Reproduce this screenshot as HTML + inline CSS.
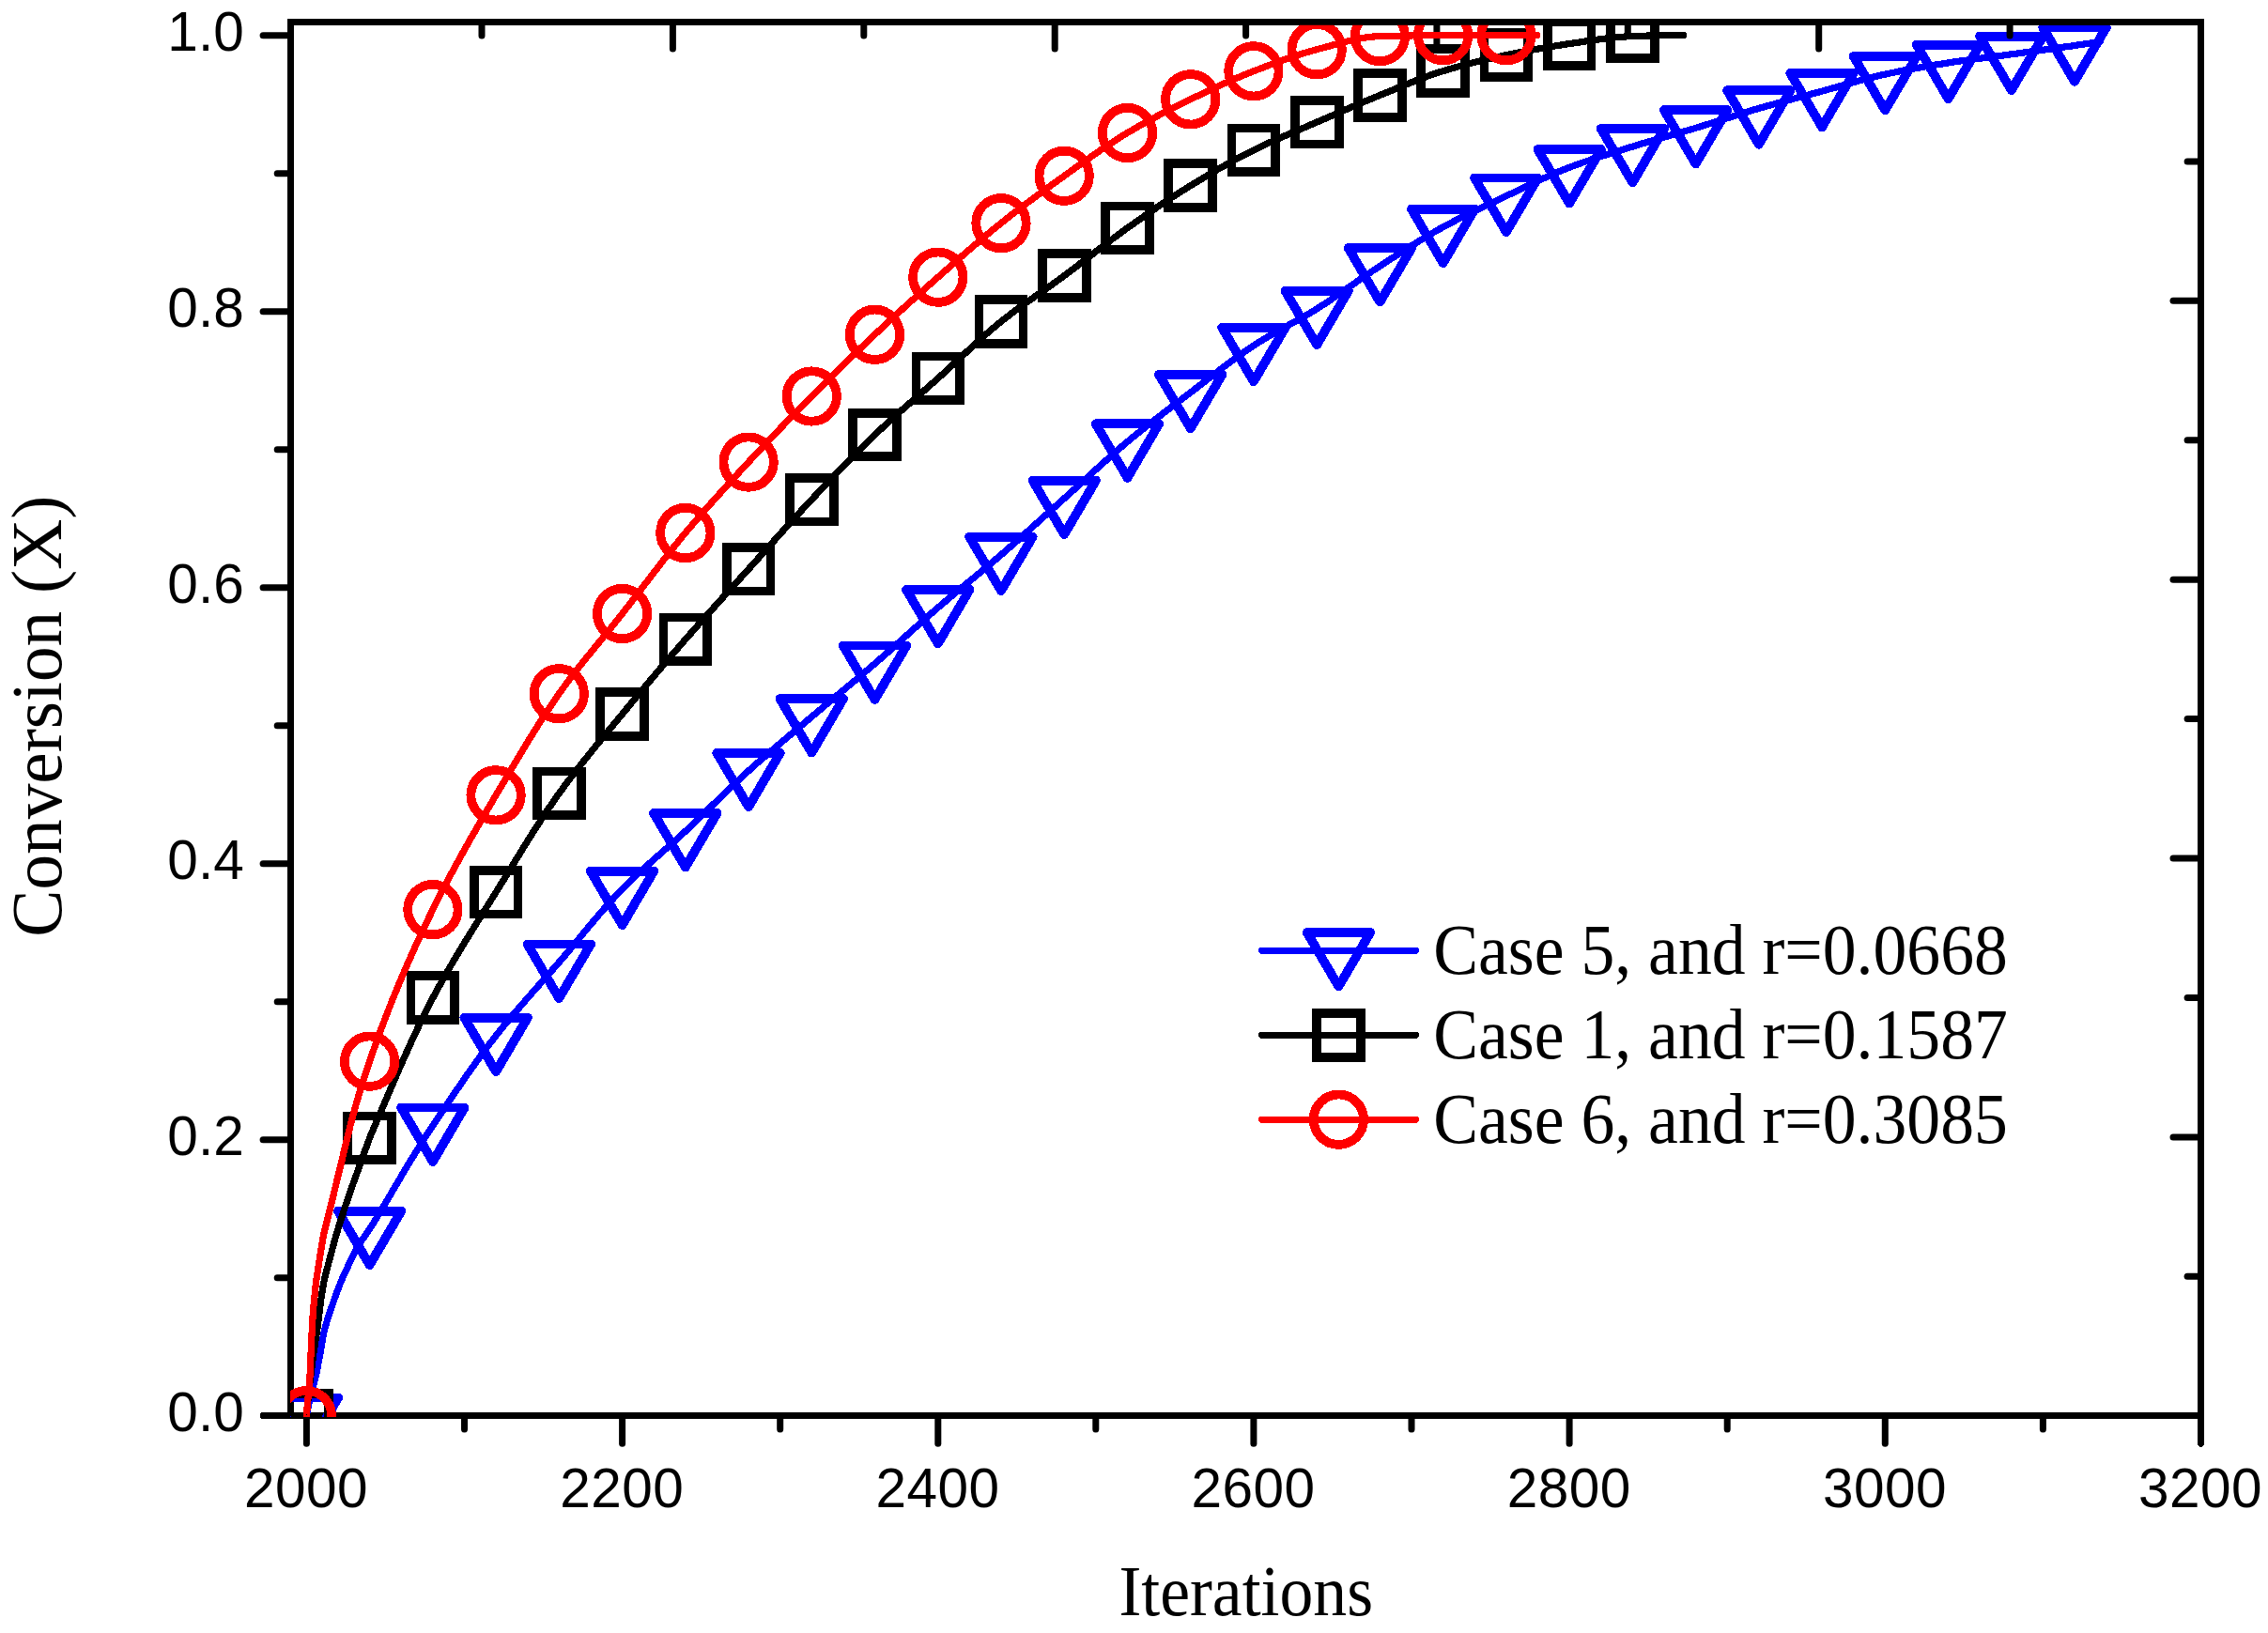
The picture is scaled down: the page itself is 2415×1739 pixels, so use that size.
<!DOCTYPE html>
<html lang="en"><head><meta charset="utf-8"><title>Conversion vs Iterations</title>
<style>html,body{margin:0;padding:0;background:#fff}svg{display:block}.tk{font-family:"Liberation Sans",Arial,sans-serif;font-size:58.5px;fill:#000}.ti{font-family:"Liberation Serif","Times New Roman",serif;font-size:76px;fill:#000}</style></head><body>
<svg width="2415" height="1739" viewBox="0 0 2415 1739" shape-rendering="crispEdges">
<rect width="2415" height="1739" fill="#fff"/>
<defs><clipPath id="plot"><rect x="309" y="26.8" width="2035.0" height="1482.2"/></clipPath></defs>
<g stroke="#000" stroke-width="7.0" fill="none" stroke-linecap="round">
<path d="M309.6 20.0 V1511.2" stroke-linecap="butt"/>
<path d="M2343.5 1507.7 H280.1"/>
<path shape-rendering="geometricPrecision" d="M308.6 1360.7 H295.2"/>
<path shape-rendering="geometricPrecision" d="M308.6 1213.7 H280.1"/>
<path shape-rendering="geometricPrecision" d="M308.6 1066.7 H295.2"/>
<path shape-rendering="geometricPrecision" d="M308.6 919.7 H280.1"/>
<path shape-rendering="geometricPrecision" d="M308.6 772.7 H295.2"/>
<path shape-rendering="geometricPrecision" d="M308.6 625.7 H280.1"/>
<path shape-rendering="geometricPrecision" d="M308.6 478.7 H295.2"/>
<path shape-rendering="geometricPrecision" d="M308.6 331.7 H280.1"/>
<path shape-rendering="geometricPrecision" d="M308.6 184.7 H295.2"/>
<path shape-rendering="geometricPrecision" d="M308.6 37.7 H280.1"/>
<path shape-rendering="geometricPrecision" d="M326.4 1508.7 V1537.2"/>
<path shape-rendering="geometricPrecision" d="M494.5 1508.7 V1522.1"/>
<path shape-rendering="geometricPrecision" d="M662.6 1508.7 V1537.2"/>
<path shape-rendering="geometricPrecision" d="M830.7 1508.7 V1522.1"/>
<path shape-rendering="geometricPrecision" d="M998.8 1508.7 V1537.2"/>
<path shape-rendering="geometricPrecision" d="M1166.8 1508.7 V1522.1"/>
<path shape-rendering="geometricPrecision" d="M1334.9 1508.7 V1537.2"/>
<path shape-rendering="geometricPrecision" d="M1503.0 1508.7 V1522.1"/>
<path shape-rendering="geometricPrecision" d="M1671.1 1508.7 V1537.2"/>
<path shape-rendering="geometricPrecision" d="M1839.2 1508.7 V1522.1"/>
<path shape-rendering="geometricPrecision" d="M2007.3 1508.7 V1537.2"/>
<path shape-rendering="geometricPrecision" d="M2175.4 1508.7 V1522.1"/>
</g>
<g clip-path="url(#plot)" fill="none" stroke-linejoin="round" stroke-linecap="round" stroke="#0000ff">
<path stroke-width="7.2" d="M326.4 1507.7 L326.4 1507.6 L326.5 1507.1 L326.6 1506.5 L326.8 1505.6 L327.0 1504.4 L327.2 1503.1 L327.5 1501.5 L327.9 1499.7 L328.3 1497.8 L328.7 1495.7 L329.2 1493.4 L329.7 1491.0 L330.3 1488.5 L330.9 1485.9 L331.6 1483.1 L332.3 1480.3 L333.0 1477.4 L333.8 1474.5 L334.7 1471.5 L335.6 1468.3 L336.5 1464.2 L337.5 1459.4 L338.6 1454.0 L339.6 1448.2 L340.8 1442.4 L341.9 1435.5 L343.2 1428.2 L344.4 1421.3 L345.7 1415.6 L347.1 1410.5 L348.5 1405.9 L349.9 1401.4 L351.4 1397.0 L353.0 1392.4 L354.6 1387.7 L356.2 1383.0 L357.9 1378.3 L359.6 1373.6 L361.4 1369.1 L363.2 1364.6 L365.0 1360.3 L366.9 1356.1 L368.9 1351.9 L370.9 1347.7 L372.9 1343.4 L375.0 1339.0 L377.2 1334.4 L379.4 1330.0 L381.6 1326.1 L383.9 1322.6 L386.2 1319.4 L388.5 1316.2 L391.0 1312.8 L393.4 1309.1 L395.9 1305.2 L398.5 1301.1 L401.1 1296.8 L403.7 1292.4 L406.4 1287.9 L412.4 1277.8 L418.4 1267.6 L424.4 1257.4 L430.4 1247.3 L436.4 1237.3 L442.4 1227.5 L448.4 1217.9 L454.4 1208.5 L460.4 1199.4 L466.4 1190.4 L472.4 1181.5 L478.4 1172.5 L484.4 1163.6 L490.4 1154.8 L496.4 1146.1 L502.4 1137.5 L508.4 1129.1 L514.4 1120.9 L520.4 1112.9 L526.4 1105.1 L532.4 1097.5 L538.4 1090.1 L544.4 1082.9 L550.4 1075.9 L556.4 1069.0 L562.4 1062.1 L568.4 1055.3 L574.4 1048.5 L580.4 1041.7 L586.4 1034.9 L592.4 1028.1 L598.4 1021.2 L604.4 1014.1 L610.4 1006.9 L616.4 999.7 L622.4 992.4 L628.4 985.2 L634.4 978.1 L640.4 971.1 L646.4 964.2 L652.4 957.6 L658.4 951.1 L664.4 945.0 L670.4 939.0 L676.4 933.3 L682.4 927.7 L688.4 922.3 L694.4 916.9 L700.4 911.6 L706.4 906.3 L712.4 901.0 L718.4 895.6 L724.4 890.2 L730.4 884.7 L736.4 879.0 L742.4 873.2 L748.4 867.4 L754.4 861.6 L760.4 855.7 L766.4 849.9 L772.4 844.1 L778.4 838.3 L784.4 832.6 L790.4 827.0 L796.4 821.5 L802.4 816.1 L808.4 810.8 L814.4 805.6 L820.4 800.4 L826.4 795.3 L832.4 790.2 L838.4 785.1 L844.4 780.1 L850.4 775.0 L856.4 770.0 L862.4 764.9 L868.4 759.8 L874.4 754.8 L880.4 749.7 L886.4 744.7 L892.4 739.7 L898.4 734.7 L904.4 729.7 L910.4 724.7 L916.4 719.6 L922.4 714.5 L928.4 709.4 L934.4 704.2 L940.4 699.0 L946.4 693.7 L952.4 688.3 L958.4 682.9 L964.4 677.5 L970.4 672.1 L976.4 666.8 L982.4 661.4 L988.4 656.1 L994.4 650.9 L1000.4 645.7 L1006.4 640.6 L1012.4 635.5 L1018.4 630.5 L1024.4 625.6 L1030.4 620.6 L1036.4 615.7 L1042.4 610.7 L1048.4 605.7 L1054.4 600.7 L1060.4 595.6 L1066.4 590.5 L1072.4 585.2 L1078.4 580.0 L1084.4 574.7 L1090.4 569.3 L1096.4 563.9 L1102.4 558.5 L1108.4 553.1 L1114.4 547.7 L1120.4 542.3 L1126.4 536.9 L1132.4 531.5 L1138.4 526.2 L1144.4 520.7 L1150.4 515.2 L1156.4 509.7 L1162.4 504.2 L1168.4 498.7 L1174.4 493.3 L1180.4 487.9 L1186.4 482.6 L1192.4 477.3 L1198.4 472.2 L1204.4 467.2 L1210.4 462.3 L1216.4 457.5 L1222.4 452.7 L1228.4 448.0 L1234.4 443.4 L1240.4 438.8 L1246.4 434.2 L1252.4 429.6 L1258.4 425.1 L1264.4 420.5 L1270.4 415.9 L1276.4 411.3 L1282.4 406.7 L1288.4 402.0 L1294.4 397.4 L1300.4 392.8 L1306.4 388.2 L1312.4 383.8 L1318.4 379.4 L1324.4 375.1 L1330.4 371.0 L1336.4 367.1 L1342.4 363.3 L1348.4 359.7 L1354.4 356.2 L1360.4 352.8 L1366.4 349.4 L1372.4 346.1 L1378.4 342.8 L1384.4 339.4 L1390.4 336.0 L1396.4 332.4 L1402.4 328.8 L1408.4 324.9 L1414.4 321.0 L1420.4 316.9 L1426.4 312.8 L1432.4 308.6 L1438.4 304.4 L1444.4 300.2 L1450.4 296.1 L1456.4 292.0 L1462.4 287.9 L1468.4 284.0 L1474.4 280.1 L1480.4 276.2 L1486.4 272.3 L1492.4 268.5 L1498.4 264.6 L1504.4 260.9 L1510.4 257.1 L1516.4 253.5 L1522.4 249.9 L1528.4 246.4 L1534.4 243.0 L1540.4 239.8 L1546.4 236.6 L1552.4 233.5 L1558.4 230.4 L1564.4 227.5 L1570.4 224.5 L1576.4 221.7 L1582.4 218.8 L1588.4 216.0 L1594.4 213.2 L1600.4 210.3 L1606.4 207.5 L1612.4 204.7 L1618.4 201.8 L1624.4 198.9 L1630.4 196.1 L1636.4 193.3 L1642.4 190.5 L1648.4 187.8 L1654.4 185.1 L1660.4 182.6 L1666.4 180.1 L1672.4 177.8 L1678.4 175.6 L1684.4 173.4 L1690.4 171.4 L1696.4 169.3 L1702.4 167.4 L1708.4 165.4 L1714.4 163.5 L1720.4 161.7 L1726.4 159.8 L1732.4 157.9 L1738.4 156.1 L1744.4 154.2 L1750.4 152.4 L1756.4 150.7 L1762.4 148.9 L1768.4 147.2 L1774.4 145.4 L1780.4 143.7 L1786.4 142.0 L1792.4 140.2 L1798.4 138.5 L1804.4 136.7 L1810.4 134.8 L1816.4 133.0 L1822.4 131.1 L1828.4 129.2 L1834.4 127.3 L1840.4 125.4 L1846.4 123.5 L1852.4 121.6 L1858.4 119.7 L1864.4 117.9 L1870.4 116.1 L1876.4 114.4 L1882.4 112.7 L1888.4 111.0 L1894.4 109.3 L1900.4 107.7 L1906.4 106.1 L1912.4 104.5 L1918.4 102.9 L1924.4 101.3 L1930.4 99.7 L1936.4 98.1 L1942.4 96.5 L1948.4 94.8 L1954.4 93.1 L1960.4 91.4 L1966.4 89.7 L1972.4 88.0 L1978.4 86.3 L1984.4 84.7 L1990.4 83.1 L1996.4 81.6 L2002.4 80.2 L2008.4 78.9 L2014.4 77.6 L2020.4 76.4 L2026.4 75.2 L2032.4 74.0 L2038.4 72.9 L2044.4 71.9 L2050.4 70.8 L2056.4 69.8 L2062.4 68.8 L2068.4 67.9 L2074.4 66.9 L2080.4 66.0 L2086.4 65.1 L2092.4 64.3 L2098.4 63.5 L2104.4 62.7 L2110.4 61.9 L2116.4 61.1 L2122.4 60.4 L2128.4 59.6 L2134.4 58.8 L2140.4 58.0 L2146.4 57.2 L2152.4 56.4 L2158.4 55.5 L2164.4 54.7 L2170.4 53.9 L2176.4 53.1 L2182.4 52.3 L2188.4 51.4 L2194.4 50.6 L2200.4 49.7 L2206.4 48.9 L2212.4 48.0 L2218.4 47.1 L2224.4 46.2 L2230.4 45.3 L2236.4 44.3 L2236.5 44.3"/>
<g stroke-width="9.8">
<path d="M292.6 1488.5 L360.1 1488.5 L326.4 1546.0 Z"/>
<path d="M359.9 1289.6 L427.4 1289.6 L393.6 1347.1 Z"/>
<path d="M427.1 1179.5 L494.6 1179.5 L460.9 1237.0 Z"/>
<path d="M494.4 1083.7 L561.9 1083.7 L528.1 1141.2 Z"/>
<path d="M561.6 1005.5 L629.1 1005.5 L595.3 1063.0 Z"/>
<path d="M628.8 927.6 L696.3 927.6 L662.6 985.1 Z"/>
<path d="M696.1 866.0 L763.6 866.0 L729.8 923.5 Z"/>
<path d="M763.3 801.7 L830.8 801.7 L797.1 859.2 Z"/>
<path d="M830.5 744.1 L898.0 744.1 L864.3 801.6 Z"/>
<path d="M897.8 687.5 L965.3 687.5 L931.5 745.0 Z"/>
<path d="M965.0 627.9 L1032.5 627.9 L998.8 685.4 Z"/>
<path d="M1032.2 571.6 L1099.7 571.6 L1066.0 629.1 Z"/>
<path d="M1099.5 511.6 L1167.0 511.6 L1133.2 569.1 Z"/>
<path d="M1166.7 451.3 L1234.2 451.3 L1200.5 508.8 Z"/>
<path d="M1234.0 398.8 L1301.5 398.8 L1267.7 456.3 Z"/>
<path d="M1301.2 348.8 L1368.7 348.8 L1334.9 406.3 Z"/>
<path d="M1368.4 309.7 L1435.9 309.7 L1402.2 367.2 Z"/>
<path d="M1435.7 264.1 L1503.2 264.1 L1469.4 321.6 Z"/>
<path d="M1502.9 222.6 L1570.4 222.6 L1536.6 280.1 Z"/>
<path d="M1570.1 189.5 L1637.6 189.5 L1603.9 247.0 Z"/>
<path d="M1637.4 159.1 L1704.9 159.1 L1671.1 216.6 Z"/>
<path d="M1704.6 136.9 L1772.1 136.9 L1738.4 194.4 Z"/>
<path d="M1771.8 117.1 L1839.3 117.1 L1805.6 174.6 Z"/>
<path d="M1839.1 96.2 L1906.6 96.2 L1872.8 153.7 Z"/>
<path d="M1906.3 77.9 L1973.8 77.9 L1940.1 135.4 Z"/>
<path d="M1973.6 59.9 L2041.1 59.9 L2007.3 117.4 Z"/>
<path d="M2040.8 47.7 L2108.3 47.7 L2074.5 105.2 Z"/>
<path d="M2108.0 38.6 L2175.5 38.6 L2141.8 96.1 Z"/>
<path d="M2175.3 29.3 L2242.8 29.3 L2209.0 86.8 Z"/>
</g></g>
<g stroke="#000" stroke-width="7.0" fill="none" stroke-linecap="round">
<path d="M306.1 23.5 H2347.0" stroke-linecap="butt"/>
<path d="M2343.5 23.5 V1537.2"/>
<path shape-rendering="geometricPrecision" d="M513.0 24.5 V37.9"/>
<path shape-rendering="geometricPrecision" d="M716.4 24.5 V52.0"/>
<path shape-rendering="geometricPrecision" d="M919.8 24.5 V37.9"/>
<path shape-rendering="geometricPrecision" d="M1123.2 24.5 V52.0"/>
<path shape-rendering="geometricPrecision" d="M1326.6 24.5 V37.9"/>
<path shape-rendering="geometricPrecision" d="M1529.9 24.5 V52.0"/>
<path shape-rendering="geometricPrecision" d="M1733.3 24.5 V37.9"/>
<path shape-rendering="geometricPrecision" d="M1936.7 24.5 V52.0"/>
<path shape-rendering="geometricPrecision" d="M2140.1 24.5 V37.9"/>
<path shape-rendering="geometricPrecision" d="M2342.5 171.9 H2329.1"/>
<path shape-rendering="geometricPrecision" d="M2342.5 320.3 H2314.0"/>
<path shape-rendering="geometricPrecision" d="M2342.5 468.8 H2329.1"/>
<path shape-rendering="geometricPrecision" d="M2342.5 617.2 H2314.0"/>
<path shape-rendering="geometricPrecision" d="M2342.5 765.6 H2329.1"/>
<path shape-rendering="geometricPrecision" d="M2342.5 914.0 H2314.0"/>
<path shape-rendering="geometricPrecision" d="M2342.5 1062.4 H2329.1"/>
<path shape-rendering="geometricPrecision" d="M2342.5 1210.9 H2314.0"/>
<path shape-rendering="geometricPrecision" d="M2342.5 1359.3 H2329.1"/>
</g>
<g clip-path="url(#plot)" fill="none" stroke-linejoin="round" stroke-linecap="round" stroke="#000000">
<path stroke-width="7.2" d="M326.4 1507.7 L326.4 1507.4 L326.5 1506.5 L326.6 1505.1 L326.8 1503.3 L327.0 1501.0 L327.2 1498.3 L327.5 1495.2 L327.9 1491.8 L328.3 1487.9 L328.7 1483.8 L329.2 1479.3 L329.7 1474.6 L330.3 1469.6 L330.9 1464.5 L331.6 1459.1 L332.3 1453.5 L333.0 1447.8 L333.8 1441.9 L334.7 1436.0 L335.6 1430.0 L336.5 1423.9 L337.5 1417.8 L338.6 1409.9 L339.6 1400.6 L340.8 1391.7 L341.9 1383.2 L343.2 1375.0 L344.4 1367.6 L345.7 1361.3 L347.1 1355.7 L348.5 1350.4 L349.9 1345.1 L351.4 1339.4 L353.0 1333.4 L354.6 1327.4 L356.2 1321.4 L357.9 1315.5 L359.6 1309.7 L361.4 1304.0 L363.2 1298.4 L365.0 1292.7 L366.9 1286.8 L368.9 1281.0 L370.9 1275.2 L372.9 1269.3 L375.0 1263.3 L377.2 1257.3 L379.4 1251.3 L381.6 1245.1 L383.9 1238.8 L386.2 1232.3 L388.5 1225.6 L391.0 1219.0 L393.4 1212.5 L395.9 1206.2 L398.5 1200.1 L401.1 1194.1 L403.7 1188.1 L406.4 1181.9 L412.4 1167.8 L418.4 1153.8 L424.4 1139.9 L430.4 1126.3 L436.4 1113.0 L442.4 1100.0 L448.4 1087.4 L454.4 1075.3 L460.4 1063.6 L466.4 1052.4 L472.4 1041.6 L478.4 1031.1 L484.4 1020.9 L490.4 1010.9 L496.4 1001.0 L502.4 991.3 L508.4 981.7 L514.4 972.1 L520.4 962.5 L526.4 952.9 L532.4 943.3 L538.4 933.5 L544.4 923.8 L550.4 914.0 L556.4 904.2 L562.4 894.6 L568.4 885.1 L574.4 875.7 L580.4 866.6 L586.4 857.7 L592.4 849.0 L598.4 840.7 L604.4 832.6 L610.4 824.7 L616.4 817.0 L622.4 809.4 L628.4 802.0 L634.4 794.6 L640.4 787.3 L646.4 780.1 L652.4 772.8 L658.4 765.6 L664.4 758.3 L670.4 751.0 L676.4 743.8 L682.4 736.6 L688.4 729.4 L694.4 722.3 L700.4 715.2 L706.4 708.1 L712.4 701.1 L718.4 694.2 L724.4 687.2 L730.4 680.3 L736.4 673.5 L742.4 666.7 L748.4 660.0 L754.4 653.3 L760.4 646.6 L766.4 639.9 L772.4 633.3 L778.4 626.7 L784.4 620.1 L790.4 613.4 L796.4 606.8 L802.4 600.2 L808.4 593.5 L814.4 586.8 L820.4 580.1 L826.4 573.4 L832.4 566.7 L838.4 560.1 L844.4 553.5 L850.4 546.9 L856.4 540.4 L862.4 534.0 L868.4 527.6 L874.4 521.3 L880.4 514.9 L886.4 508.6 L892.4 502.3 L898.4 496.1 L904.4 489.9 L910.4 483.8 L916.4 477.8 L922.4 471.8 L928.4 466.0 L934.4 460.3 L940.4 454.7 L946.4 449.2 L952.4 443.8 L958.4 438.4 L964.4 433.1 L970.4 427.9 L976.4 422.6 L982.4 417.4 L988.4 412.1 L994.4 406.8 L1000.4 401.4 L1006.4 396.0 L1012.4 390.4 L1018.4 384.9 L1024.4 379.3 L1030.4 373.7 L1036.4 368.1 L1042.4 362.7 L1048.4 357.3 L1054.4 352.1 L1060.4 347.0 L1066.4 342.1 L1072.4 337.4 L1078.4 332.8 L1084.4 328.3 L1090.4 324.0 L1096.4 319.7 L1102.4 315.5 L1108.4 311.3 L1114.4 307.1 L1120.4 302.9 L1126.4 298.6 L1132.4 294.2 L1138.4 289.7 L1144.4 285.2 L1150.4 280.6 L1156.4 276.0 L1162.4 271.4 L1168.4 266.7 L1174.4 262.1 L1180.4 257.6 L1186.4 253.1 L1192.4 248.6 L1198.4 244.3 L1204.4 240.0 L1210.4 235.8 L1216.4 231.6 L1222.4 227.4 L1228.4 223.3 L1234.4 219.2 L1240.4 215.2 L1246.4 211.2 L1252.4 207.3 L1258.4 203.5 L1264.4 199.7 L1270.4 196.1 L1276.4 192.4 L1282.4 188.8 L1288.4 185.2 L1294.4 181.7 L1300.4 178.3 L1306.4 174.9 L1312.4 171.6 L1318.4 168.3 L1324.4 165.2 L1330.4 162.1 L1336.4 159.1 L1342.4 156.2 L1348.4 153.4 L1354.4 150.6 L1360.4 148.0 L1366.4 145.4 L1372.4 142.8 L1378.4 140.2 L1384.4 137.7 L1390.4 135.2 L1396.4 132.6 L1402.4 130.0 L1408.4 127.4 L1414.4 124.8 L1420.4 122.2 L1426.4 119.6 L1432.4 117.0 L1438.4 114.4 L1444.4 111.8 L1450.4 109.3 L1456.4 106.7 L1462.4 104.3 L1468.4 101.8 L1474.4 99.4 L1480.4 96.9 L1486.4 94.4 L1492.4 92.0 L1498.4 89.5 L1504.4 87.1 L1510.4 84.8 L1516.4 82.5 L1522.4 80.3 L1528.4 78.2 L1534.4 76.3 L1540.4 74.5 L1546.4 72.7 L1552.4 71.0 L1558.4 69.4 L1564.4 67.8 L1570.4 66.3 L1576.4 64.9 L1582.4 63.4 L1588.4 62.1 L1594.4 60.7 L1600.4 59.4 L1606.4 58.2 L1612.4 56.9 L1618.4 55.7 L1624.4 54.6 L1630.4 53.4 L1636.4 52.3 L1642.4 51.2 L1648.4 50.2 L1654.4 49.2 L1660.4 48.2 L1666.4 47.3 L1672.4 46.4 L1678.4 45.5 L1684.4 44.6 L1690.4 43.7 L1696.4 42.8 L1702.4 42.0 L1708.4 41.2 L1714.4 40.5 L1720.4 39.8 L1726.4 39.3 L1732.4 38.9 L1738.4 38.6 L1744.4 38.4 L1750.4 38.2 L1756.4 38.0 L1762.4 37.9 L1768.4 37.8 L1774.4 37.6 L1780.4 37.6 L1786.4 37.5 L1792.4 37.5"/>
<g stroke-width="9.8" stroke-linejoin="miter">
<rect x="303.0" y="1484.3" width="46.8" height="46.8"/>
<rect x="370.2" y="1188.5" width="46.8" height="46.8"/>
<rect x="437.5" y="1039.3" width="46.8" height="46.8"/>
<rect x="504.7" y="926.8" width="46.8" height="46.8"/>
<rect x="571.9" y="821.5" width="46.8" height="46.8"/>
<rect x="639.2" y="737.1" width="46.8" height="46.8"/>
<rect x="706.4" y="657.6" width="46.8" height="46.8"/>
<rect x="773.7" y="582.7" width="46.8" height="46.8"/>
<rect x="840.9" y="508.6" width="46.8" height="46.8"/>
<rect x="908.1" y="439.6" width="46.8" height="46.8"/>
<rect x="975.4" y="379.5" width="46.8" height="46.8"/>
<rect x="1042.6" y="319.0" width="46.8" height="46.8"/>
<rect x="1109.8" y="270.2" width="46.8" height="46.8"/>
<rect x="1177.1" y="219.4" width="46.8" height="46.8"/>
<rect x="1244.3" y="174.3" width="46.8" height="46.8"/>
<rect x="1311.5" y="136.4" width="46.8" height="46.8"/>
<rect x="1378.8" y="106.7" width="46.8" height="46.8"/>
<rect x="1446.0" y="78.0" width="46.8" height="46.8"/>
<rect x="1513.2" y="52.2" width="46.8" height="46.8"/>
<rect x="1580.5" y="35.3" width="46.8" height="46.8"/>
<rect x="1647.7" y="23.2" width="46.8" height="46.8"/>
<rect x="1715.0" y="15.2" width="46.8" height="46.8"/>
</g></g>
<g clip-path="url(#plot)" fill="none" stroke-linejoin="round" stroke-linecap="round" stroke="#ff0000">
<path stroke-width="7.2" d="M326.4 1507.7 L326.4 1507.4 L326.5 1506.5 L326.6 1505.0 L326.8 1503.0 L327.0 1500.5 L327.2 1497.5 L327.5 1493.9 L327.9 1490.0 L328.3 1485.6 L328.7 1480.8 L329.2 1475.6 L329.7 1470.0 L330.3 1460.3 L330.9 1445.4 L331.6 1429.2 L332.3 1415.5 L333.0 1403.3 L333.8 1392.3 L334.7 1382.8 L335.6 1374.1 L336.5 1366.1 L337.5 1358.7 L338.6 1351.8 L339.6 1344.9 L340.8 1337.8 L341.9 1330.3 L343.2 1323.0 L344.4 1316.1 L345.7 1310.0 L347.1 1304.5 L348.5 1299.1 L349.9 1293.5 L351.4 1287.4 L353.0 1281.1 L354.6 1274.5 L356.2 1267.8 L357.9 1260.9 L359.6 1253.8 L361.4 1246.6 L363.2 1239.3 L365.0 1231.6 L366.9 1223.7 L368.9 1215.6 L370.9 1207.3 L372.9 1199.1 L375.0 1190.9 L377.2 1183.0 L379.4 1175.3 L381.6 1167.7 L383.9 1160.2 L386.2 1152.9 L388.5 1145.5 L391.0 1138.2 L393.4 1130.9 L395.9 1123.5 L398.5 1116.2 L401.1 1108.9 L403.7 1101.6 L406.4 1094.3 L412.4 1078.6 L418.4 1063.4 L424.4 1048.8 L430.4 1034.6 L436.4 1020.9 L442.4 1007.6 L448.4 994.6 L454.4 981.9 L460.4 969.6 L466.4 957.5 L472.4 945.8 L478.4 934.4 L484.4 923.2 L490.4 912.3 L496.4 901.5 L502.4 890.9 L508.4 880.5 L514.4 870.1 L520.4 859.9 L526.4 849.7 L532.4 839.5 L538.4 829.4 L544.4 819.2 L550.4 809.1 L556.4 799.1 L562.4 789.2 L568.4 779.5 L574.4 770.0 L580.4 760.7 L586.4 751.7 L592.4 742.9 L598.4 734.4 L604.4 726.2 L610.4 718.3 L616.4 710.6 L622.4 703.1 L628.4 695.7 L634.4 688.3 L640.4 681.0 L646.4 673.6 L652.4 666.2 L658.4 658.8 L664.4 651.2 L670.4 643.5 L676.4 635.7 L682.4 627.9 L688.4 620.0 L694.4 612.2 L700.4 604.4 L706.4 596.6 L712.4 589.0 L718.4 581.4 L724.4 574.0 L730.4 566.8 L736.4 559.7 L742.4 552.7 L748.4 545.8 L754.4 539.0 L760.4 532.2 L766.4 525.6 L772.4 518.9 L778.4 512.3 L784.4 505.8 L790.4 499.3 L796.4 492.8 L802.4 486.3 L808.4 479.9 L814.4 473.5 L820.4 467.2 L826.4 460.9 L832.4 454.6 L838.4 448.4 L844.4 442.2 L850.4 436.1 L856.4 430.0 L862.4 423.9 L868.4 417.9 L874.4 411.8 L880.4 405.9 L886.4 399.9 L892.4 394.0 L898.4 388.1 L904.4 382.3 L910.4 376.4 L916.4 370.7 L922.4 364.9 L928.4 359.2 L934.4 353.6 L940.4 348.0 L946.4 342.4 L952.4 336.9 L958.4 331.4 L964.4 325.9 L970.4 320.5 L976.4 315.1 L982.4 309.7 L988.4 304.4 L994.4 299.0 L1000.4 293.8 L1006.4 288.5 L1012.4 283.2 L1018.4 277.9 L1024.4 272.6 L1030.4 267.4 L1036.4 262.2 L1042.4 257.1 L1048.4 252.0 L1054.4 247.0 L1060.4 242.1 L1066.4 237.3 L1072.4 232.5 L1078.4 227.8 L1084.4 223.2 L1090.4 218.6 L1096.4 214.1 L1102.4 209.7 L1108.4 205.2 L1114.4 200.9 L1120.4 196.5 L1126.4 192.2 L1132.4 187.9 L1138.4 183.6 L1144.4 179.3 L1150.4 175.0 L1156.4 170.8 L1162.4 166.5 L1168.4 162.3 L1174.4 158.2 L1180.4 154.2 L1186.4 150.3 L1192.4 146.4 L1198.4 142.7 L1204.4 139.2 L1210.4 135.7 L1216.4 132.3 L1222.4 129.0 L1228.4 125.7 L1234.4 122.5 L1240.4 119.4 L1246.4 116.4 L1252.4 113.3 L1258.4 110.4 L1264.4 107.4 L1270.4 104.5 L1276.4 101.6 L1282.4 98.7 L1288.4 95.9 L1294.4 93.1 L1300.4 90.4 L1306.4 87.7 L1312.4 85.1 L1318.4 82.5 L1324.4 80.0 L1330.4 77.6 L1336.4 75.2 L1342.4 72.9 L1348.4 70.6 L1354.4 68.3 L1360.4 66.1 L1366.4 63.9 L1372.4 61.8 L1378.4 59.8 L1384.4 57.9 L1390.4 56.0 L1396.4 54.3 L1402.4 52.6 L1408.4 51.0 L1414.4 49.4 L1420.4 47.7 L1426.4 46.1 L1432.4 44.5 L1438.4 43.0 L1444.4 41.7 L1450.4 40.6 L1456.4 39.7 L1462.4 39.0 L1468.4 38.6 L1474.4 38.5 L1480.4 38.3 L1486.4 38.2 L1492.4 38.1 L1498.4 38.0 L1504.4 37.9 L1510.4 37.8 L1516.4 37.8 L1522.4 37.7 L1528.4 37.7 L1534.4 37.7 L1540.4 37.7 L1546.4 37.7 L1552.4 37.7 L1558.4 37.7 L1564.4 37.7 L1570.4 37.7 L1576.4 37.7 L1582.4 37.7 L1588.4 37.7 L1594.4 37.7 L1600.4 37.7 L1606.4 37.7 L1612.4 37.7 L1618.4 37.6 L1624.4 37.6 L1630.4 37.6 L1636.4 37.5"/>
<g stroke-width="9.8">
<circle cx="326.4" cy="1507.7" r="26.7"/>
<circle cx="393.6" cy="1130.2" r="26.7"/>
<circle cx="460.9" cy="968.6" r="26.7"/>
<circle cx="528.1" cy="846.8" r="26.7"/>
<circle cx="595.3" cy="738.7" r="26.7"/>
<circle cx="662.6" cy="653.5" r="26.7"/>
<circle cx="729.8" cy="567.5" r="26.7"/>
<circle cx="797.1" cy="492.1" r="26.7"/>
<circle cx="864.3" cy="422.0" r="26.7"/>
<circle cx="931.5" cy="356.3" r="26.7"/>
<circle cx="998.8" cy="295.2" r="26.7"/>
<circle cx="1066.0" cy="237.6" r="26.7"/>
<circle cx="1133.2" cy="187.3" r="26.7"/>
<circle cx="1200.5" cy="141.5" r="26.7"/>
<circle cx="1267.7" cy="105.8" r="26.7"/>
<circle cx="1334.9" cy="75.8" r="26.7"/>
<circle cx="1402.2" cy="52.7" r="26.7"/>
<circle cx="1469.4" cy="38.6" r="26.7"/>
<circle cx="1536.6" cy="37.7" r="26.7"/>
<circle cx="1603.9" cy="37.7" r="26.7"/>
</g></g>
<g class="tk" text-anchor="end">
<text x="259.7" y="1524.1">0.0</text>
<text x="259.7" y="1230.1">0.2</text>
<text x="259.7" y="936.1">0.4</text>
<text x="259.7" y="642.1">0.6</text>
<text x="259.7" y="348.1">0.8</text>
<text x="259.7" y="54.1">1.0</text>
</g>
<g class="tk" text-anchor="middle" letter-spacing="0.45">
<text x="326.0" y="1604.9">2000</text>
<text x="662.2" y="1604.9">2200</text>
<text x="998.4" y="1604.9">2400</text>
<text x="1334.5" y="1604.9">2600</text>
<text x="1670.7" y="1604.9">2800</text>
<text x="2006.9" y="1604.9">3000</text>
<text x="2343.1" y="1604.9">3200</text>
</g>
<text class="ti" text-anchor="middle" transform="translate(1326.7 1720.1) scale(0.943 1)">Iterations</text>
<text class="ti" text-anchor="middle" transform="translate(64.5 762.7) rotate(-90) scale(0.99 1)">Conversion (X)</text>
<g stroke="#0000ff" fill="none" stroke-linecap="round" stroke-linejoin="round">
<path stroke-width="7.2" d="M1343.5 1012.2 H1507.3"/>
<g stroke-width="9.8"><path d="M1391.7 993.0 L1459.2 993.0 L1425.4 1050.5 Z"/></g>
</g>
<text class="ti" transform="translate(1526.2 1036.5) scale(0.943 1)">Case 5, and r=0.0668</text>
<g stroke="#000000" fill="none" stroke-linecap="round" stroke-linejoin="miter">
<path stroke-width="7.2" d="M1343.5 1102.2 H1507.3"/>
<g stroke-width="9.8"><rect x="1402.0" y="1078.8" width="46.8" height="46.8"/></g>
</g>
<text class="ti" transform="translate(1526.2 1126.5) scale(0.943 1)">Case 1, and r=0.1587</text>
<g stroke="#ff0000" fill="none" stroke-linecap="round" stroke-linejoin="round">
<path stroke-width="7.2" d="M1343.5 1192.2 H1507.3"/>
<g stroke-width="9.8"><circle cx="1425.4" cy="1192.2" r="26.7"/></g>
</g>
<text class="ti" transform="translate(1526.2 1216.5) scale(0.943 1)">Case 6, and r=0.3085</text>
</svg></body></html>
